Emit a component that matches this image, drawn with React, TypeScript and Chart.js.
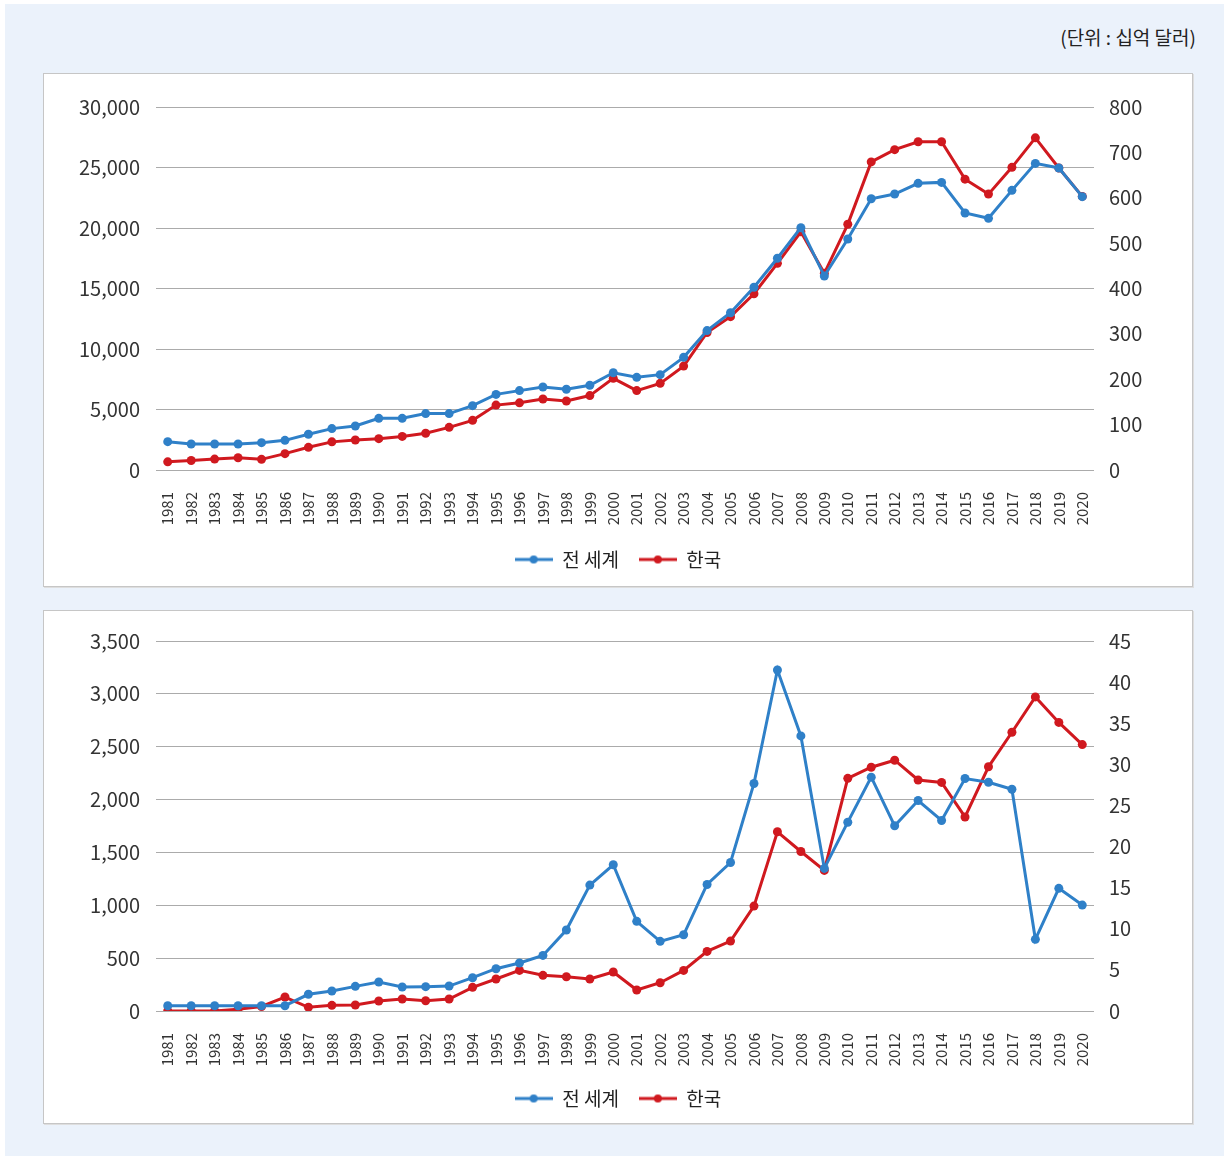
import React, { useEffect, useRef } from "react";
import { Chart, registerables } from "chart.js";

Chart.register(...registerables);

const years = [
  "1981","1982","1983","1984","1985","1986","1987","1988","1989","1990",
  "1991","1992","1993","1994","1995","1996","1997","1998","1999","2000",
  "2001","2002","2003","2004","2005","2006","2007","2008","2009","2010",
  "2011","2012","2013","2014","2015","2016","2017","2018","2019","2020",
];

// Top chart: world (left axis), Korea (right axis)
const worldTop = [
  2340, 2150, 2150, 2150, 2260, 2450, 2950, 3420, 3640, 4270,
  4270, 4660, 4660, 5320, 6250, 6560, 6860, 6670, 7000, 8040,
  7660, 7880, 9310, 11520, 13000, 15100, 17500, 20030, 16030, 19090,
  22420, 22810, 23690, 23770, 21240, 20800, 23110, 25340, 24960, 22590,
];
const koreaTop = [
  18, 21, 24, 27, 23.5, 36, 50, 62, 66, 69,
  74, 81, 94, 109.5, 143, 148, 156.5, 152, 164, 202,
  175, 191, 229, 303, 338, 388.5, 455.5, 525, 433.5, 541.5,
  679, 706, 723.5, 723.5, 641, 608, 667, 732, 665.5, 603,
];

// Bottom chart: world (left axis), Korea (right axis)
const worldBottom = [
  50, 50, 50, 50, 50, 50, 158, 189, 233, 274,
  227, 230, 236, 315, 400, 454, 526, 766, 1191, 1383,
  848, 659, 721, 1197, 1405, 2152, 3226, 2602, 1349, 1786,
  2212, 1752, 1991, 1802, 2199, 2164, 2098, 678, 1160, 1002,
];
const koreaBottom = [
  0, 0, 0, 0.2, 0.55, 1.7, 0.45, 0.69, 0.73, 1.21,
  1.46, 1.25, 1.46, 2.88, 3.89, 4.94, 4.34, 4.17, 3.89, 4.74,
  2.55, 3.44, 4.94, 7.25, 8.5, 12.76, 21.8, 19.4, 17.1, 28.3,
  29.65, 30.5, 28.1, 27.8, 23.6, 29.7, 33.9, 38.2, 35.1, 32.4,
];

const seriesNames = ["전 세계", "한국"];
const unitLabel = "(단위 : 십억 달러)";

const BLUE = "#2f80c8";
const RED = "#d0191f";
const FONT = "'Noto Sans CJK KR', 'Noto Sans', sans-serif";

function legendIcon(color: string): HTMLCanvasElement {
  const c = document.createElement("canvas");
  c.width = 38;
  c.height = 10;
  const ctx = c.getContext("2d")!;
  ctx.strokeStyle = color;
  ctx.lineWidth = 3;
  ctx.beginPath();
  ctx.moveTo(0, 5);
  ctx.lineTo(38, 5);
  ctx.stroke();
  ctx.fillStyle = color;
  ctx.beginPath();
  ctx.arc(19, 5, 4, 0, Math.PI * 2);
  ctx.fill();
  return c;
}

type Cfg = {
  world: number[];
  korea: number[];
  leftMax: number;
  leftStep: number;
  rightMax: number;
  rightStep: number;
  padTop: number;
  padBottom: number;
  xHeight: number;
};

function LineChart({ cfg }: { cfg: Cfg }) {
  const ref = useRef<HTMLCanvasElement | null>(null);
  useEffect(() => {
    if (!ref.current) return;
    const icons = [legendIcon(BLUE), legendIcon(RED)];
    const chart = new Chart(ref.current, {
      type: "line",
      data: {
        labels: years,
        datasets: [
          {
            label: seriesNames[0],
            data: cfg.world,
            yAxisID: "y",
            borderColor: BLUE,
            backgroundColor: BLUE,
            pointBackgroundColor: BLUE,
            pointBorderColor: BLUE,
            borderWidth: 3,
            pointRadius: 4.5,
            pointBorderWidth: 0,
            tension: 0,
          },
          {
            label: seriesNames[1],
            data: cfg.korea,
            yAxisID: "y1",
            borderColor: RED,
            backgroundColor: RED,
            pointBackgroundColor: RED,
            pointBorderColor: RED,
            borderWidth: 3,
            pointRadius: 4.5,
            pointBorderWidth: 0,
            tension: 0,
          },
        ],
      },
      options: {
        animation: false,
        responsive: false,
        maintainAspectRatio: false,
        layout: { padding: { top: cfg.padTop, bottom: cfg.padBottom, left: 0, right: 0 } },
        plugins: {
          tooltip: { enabled: false },
          legend: {
            position: "bottom",
            labels: {
              usePointStyle: true,
              pointStyleWidth: 38,
              padding: 20,
              color: "#222",
              font: { family: FONT, size: 19 },
              generateLabels: (ch: any) =>
                ch.data.datasets.map((ds: any, i: number) => ({
                  text: ds.label,
                  fillStyle: ds.borderColor,
                  strokeStyle: ds.borderColor,
                  lineWidth: 0,
                  pointStyle: icons[i],
                  hidden: false,
                  datasetIndex: i,
                  fontColor: "#222",
                })),
            },
          },
        },
        scales: {
          x: {
            offset: true,
            grid: { display: false },
            border: { display: false },
            ticks: {
              autoSkip: false,
              minRotation: 90,
              maxRotation: 90,
              padding: 14,
              color: "#333",
              font: { family: FONT, size: 15 },
            },
            afterFit: (s: any) => {
              s.height = cfg.xHeight;
            },
          },
          y: {
            position: "left",
            min: 0,
            max: cfg.leftMax,
            grid: { color: "#ababab", lineWidth: 1, drawTicks: false },
            border: { display: false },
            ticks: {
              stepSize: cfg.leftStep,
              padding: 16,
              color: "#333",
              font: { family: FONT, size: 20 },
              callback: (v: any) => Number(v).toLocaleString("en-US"),
            },
            afterFit: (s: any) => {
              s.width = 112;
            },
          },
          y1: {
            position: "right",
            min: 0,
            max: cfg.rightMax,
            grid: { display: false, drawTicks: false },
            border: { display: false },
            ticks: {
              stepSize: cfg.rightStep,
              padding: 15,
              color: "#333",
              font: { family: FONT, size: 20 },
              callback: (v: any) => Number(v).toLocaleString("en-US"),
            },
            afterFit: (s: any) => {
              s.width = 98;
            },
          },
        },
      },
    });
    return () => chart.destroy();
  }, [cfg]);
  return <canvas ref={ref} width={1148} height={512} style={{ display: "block", width: 1148, height: 512 }} />;
}

const topCfg: Cfg = {
  world: worldTop,
  korea: koreaTop,
  leftMax: 30000,
  leftStep: 5000,
  rightMax: 800,
  rightStep: 100,
  padTop: 33,
  padBottom: 7,
  xHeight: 60,
};
const bottomCfg: Cfg = {
  world: worldBottom,
  korea: koreaBottom,
  leftMax: 3500,
  leftStep: 500,
  rightMax: 45,
  rightStep: 5,
  padTop: 30,
  padBottom: 5,
  xHeight: 58,
};

const panelStyle = (top: number): React.CSSProperties => ({
  position: "absolute",
  left: 43,
  top,
  width: 1148,
  height: 512,
  background: "#fff",
  border: "1px solid #c6c6c6",
  boxShadow: "1px 1px 0 #dedede",
});

export default function App() {
  return (
    <div style={{ position: "absolute", left: 0, top: 0, width: 1224, height: 1156, background: "#fff", overflow: "hidden" }}>
      <div style={{ position: "absolute", left: 5, top: 4, right: 0, bottom: 0, background: "#ebf2fb" }} />
      <div
        style={{
          position: "absolute",
          right: 28,
          top: 24,
          fontFamily: FONT,
          fontSize: 19,
          color: "#222",
          lineHeight: "26px",
        }}
      >
        {unitLabel}
      </div>
      <div style={panelStyle(73)}>
        <LineChart cfg={topCfg} />
      </div>
      <div style={panelStyle(610)}>
        <LineChart cfg={bottomCfg} />
      </div>
    </div>
  );
}
